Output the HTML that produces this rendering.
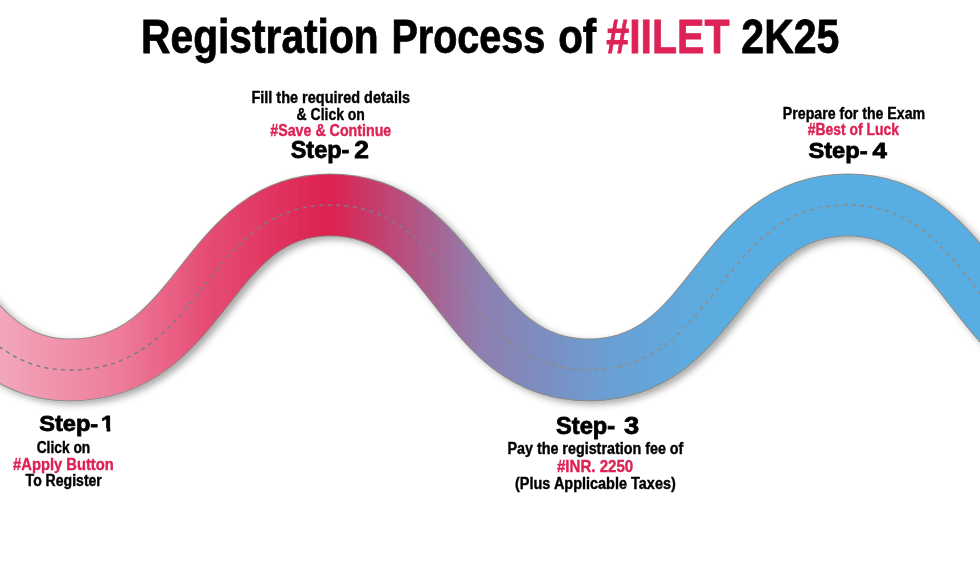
<!DOCTYPE html>
<html lang="en">
<head>
<meta charset="utf-8">
<title>Registration Process of #IILET 2K25</title>
<style>
html,body{margin:0;padding:0;background:#fff;}
body{width:980px;height:580px;overflow:hidden;position:relative;font-family:"Liberation Sans",sans-serif;}
svg{position:absolute;left:0;top:0;display:block;}
.t{font-family:"Liberation Sans",sans-serif;font-weight:bold;}
</style>
</head>
<body>
<svg width="980" height="580" viewBox="0 0 980 580">
  <defs>
    <linearGradient id="g" gradientUnits="userSpaceOnUse" x1="0" y1="0" x2="980" y2="0">
      <stop offset="0" stop-color="#f3a7bb"/>
      <stop offset="0.12" stop-color="#ee7d9a"/>
      <stop offset="0.21" stop-color="#e54d74"/>
      <stop offset="0.337" stop-color="#dd2150"/>
      <stop offset="0.49" stop-color="#8f7fb0"/>
      <stop offset="0.56" stop-color="#7a8fc2"/>
      <stop offset="0.62" stop-color="#6a9fd4"/>
      <stop offset="0.70" stop-color="#5eaade"/>
      <stop offset="0.76" stop-color="#58aee2"/>
      <stop offset="1" stop-color="#58aee2"/>
    </linearGradient>
    <linearGradient id="dg" gradientUnits="userSpaceOnUse" x1="0" y1="0" x2="980" y2="0">
      <stop offset="0" stop-color="#6f7f88"/>
      <stop offset="0.4" stop-color="#787f8a"/>
      <stop offset="0.6" stop-color="#9a877c"/>
      <stop offset="1" stop-color="#9a877c"/>
    </linearGradient>
    <filter id="sh" x="-5%" y="-20%" width="110%" height="150%">
      <feGaussianBlur in="SourceAlpha" stdDeviation="3.5"/>
      <feOffset dx="4" dy="3" result="b"/>
      <feComponentTransfer><feFuncA type="linear" slope="0.34"/></feComponentTransfer>
      <feMerge><feMergeNode/><feMergeNode in="SourceGraphic"/></feMerge>
    </filter>
  </defs>
  <g filter="url(#sh)">
    <path id="road" d="M-178,205 C-54,205 -54,370 70,370 C204,370 204,205 330,205 C459.5,205 459.5,370 589,370 C718.5,370 718.5,205 848,205 C975.5,205 975.5,370 1103,370" fill="none" stroke="#8c8c88" stroke-width="62.8"/>
    <path d="M-178,205 C-54,205 -54,370 70,370 C204,370 204,205 330,205 C459.5,205 459.5,370 589,370 C718.5,370 718.5,205 848,205 C975.5,205 975.5,370 1103,370" fill="none" stroke="url(#g)" stroke-width="60.8"/>
  </g>
  <path d="M-178,205 C-54,205 -54,370 70,370 C204,370 204,205 330,205 C459.5,205 459.5,370 589,370 C718.5,370 718.5,205 848,205 C975.5,205 975.5,370 1103,370" fill="none" stroke="url(#dg)" stroke-width="1.4" stroke-dasharray="4 4.4"/>

  <!--TEXT-->
  <text id="t1" class="t" transform="translate(141.07 53.00) scale(0.8442 1)" font-size="48.26" fill="#000000" stroke="#000000" stroke-width="0.8" stroke-linejoin="miter" stroke-miterlimit="2">Registration</text>
  <text id="t2" class="t" transform="translate(391.44 53.00) scale(0.8191 1)" font-size="48.26" fill="#000000" stroke="#000000" stroke-width="0.8" stroke-linejoin="miter" stroke-miterlimit="2">Process</text>
  <text id="t3" class="t" transform="translate(558.14 53.00) scale(0.8341 1)" font-size="48.26" fill="#000000" stroke="#000000" stroke-width="0.8" stroke-linejoin="miter" stroke-miterlimit="2">of</text>
  <text id="t4" class="t" transform="translate(606.36 53.00) scale(0.8508 1)" font-size="48.26" fill="#dd2255" stroke="#dd2255" stroke-width="0.8" stroke-linejoin="miter" stroke-miterlimit="2">#IILET</text>
  <text id="t5" class="t" transform="translate(741.32 53.00) scale(0.8507 1)" font-size="48.26" fill="#000000" stroke="#000000" stroke-width="0.8" stroke-linejoin="miter" stroke-miterlimit="2">2K25</text>
  <text id="a1" class="t" transform="translate(251.42 103.00) scale(0.8775 1)" font-size="16.52" fill="#000000" stroke="#000000" stroke-width="0.4" stroke-linejoin="miter" stroke-miterlimit="2">Fill the required details</text>
  <text id="a2" class="t" transform="translate(296.58 119.70) scale(0.8246 1)" font-size="16.96" fill="#000000" stroke="#000000" stroke-width="0.4" stroke-linejoin="miter" stroke-miterlimit="2">&amp; Click on</text>
  <text id="a3" class="t" transform="translate(270.29 135.80) scale(0.8471 1)" font-size="16.81" fill="#dd2255" stroke="#dd2255" stroke-width="0.4" stroke-linejoin="miter" stroke-miterlimit="2">#Save &amp; Continue</text>
  <text id="a4" class="t" transform="translate(290.69 158.00) scale(1.0115 1)" font-size="23.19" fill="#000000" stroke="#000000" stroke-width="0.8" stroke-linejoin="miter" stroke-miterlimit="2">Step-</text>
  <text id="a5" class="t" transform="translate(354.15 158.00) scale(1.1378 1)" font-size="23.19" fill="#000000" stroke="#000000" stroke-width="0.8" stroke-linejoin="miter" stroke-miterlimit="2">2</text>
  <text id="b1" class="t" transform="translate(782.83 119.40) scale(0.8719 1)" font-size="16.23" fill="#000000" stroke="#000000" stroke-width="0.4" stroke-linejoin="miter" stroke-miterlimit="2">Prepare for the Exam</text>
  <text id="b2" class="t" transform="translate(807.68 135.40) scale(0.8675 1)" font-size="16.09" fill="#dd2255" stroke="#dd2255" stroke-width="0.4" stroke-linejoin="miter" stroke-miterlimit="2">#Best of Luck</text>
  <text id="b3" class="t" transform="translate(808.48 157.70) scale(1.0462 1)" font-size="22.61" fill="#000000" stroke="#000000" stroke-width="0.8" stroke-linejoin="miter" stroke-miterlimit="2">Step-</text>
  <text id="b4" class="t" transform="translate(872.41 157.70) scale(1.1429 1)" font-size="22.61" fill="#000000" stroke="#000000" stroke-width="0.8" stroke-linejoin="miter" stroke-miterlimit="2">4</text>
  <text id="c1" class="t" transform="translate(39.18 430.70) scale(1.0378 1)" font-size="22.75" fill="#000000" stroke="#000000" stroke-width="0.8" stroke-linejoin="miter" stroke-miterlimit="2">Step-</text>
  <clipPath id="cpc2"><path d="M-2,-22.75 H8.83 V2 H5.31 V-2.72 H-2 Z"/></clipPath><text id="c2" class="t" clip-path="url(#cpc2)" transform="translate(101.11 430.70) scale(1.0571 1)" font-size="22.75" fill="#000000" stroke="#000000" stroke-width="0.8" stroke-linejoin="miter" stroke-miterlimit="2">1</text>
  <text id="c3" class="t" transform="translate(36.68 452.60) scale(0.8486 1)" font-size="16.23" fill="#000000" stroke="#000000" stroke-width="0.4" stroke-linejoin="miter" stroke-miterlimit="2">Click on</text>
  <text id="c4" class="t" transform="translate(13.08 470.10) scale(0.8843 1)" font-size="16.67" fill="#dd2255" stroke="#dd2255" stroke-width="0.4" stroke-linejoin="miter" stroke-miterlimit="2">#Apply Button</text>
  <text id="c5" class="t" transform="translate(25.60 485.60) scale(0.8823 1)" font-size="15.94" fill="#000000" stroke="#000000" stroke-width="0.4" stroke-linejoin="miter" stroke-miterlimit="2">To Register</text>
  <text id="d1" class="t" transform="translate(556.09 433.70) scale(1.0258 1)" font-size="23.04" fill="#000000" stroke="#000000" stroke-width="0.8" stroke-linejoin="miter" stroke-miterlimit="2">Step-</text>
  <text id="d2" class="t" transform="translate(624.11 433.70) scale(1.1826 1)" font-size="23.04" fill="#000000" stroke="#000000" stroke-width="0.8" stroke-linejoin="miter" stroke-miterlimit="2">3</text>
  <text id="d3" class="t" transform="translate(507.42 454.00) scale(0.8759 1)" font-size="16.38" fill="#000000" stroke="#000000" stroke-width="0.4" stroke-linejoin="miter" stroke-miterlimit="2">Pay the registration fee of</text>
  <text id="d4" class="t" transform="translate(556.97 472.40) scale(0.9207 1)" font-size="16.38" fill="#dd2255" stroke="#dd2255" stroke-width="0.4" stroke-linejoin="miter" stroke-miterlimit="2">#INR. 2250</text>
  <text id="d5" class="t" transform="translate(515.03 488.60) scale(0.8993 1)" font-size="16.09" fill="#000000" stroke="#000000" stroke-width="0.4" stroke-linejoin="miter" stroke-miterlimit="2">(Plus Applicable Taxes)</text>
  <!--/TEXT-->
</svg>
</body>
</html>
